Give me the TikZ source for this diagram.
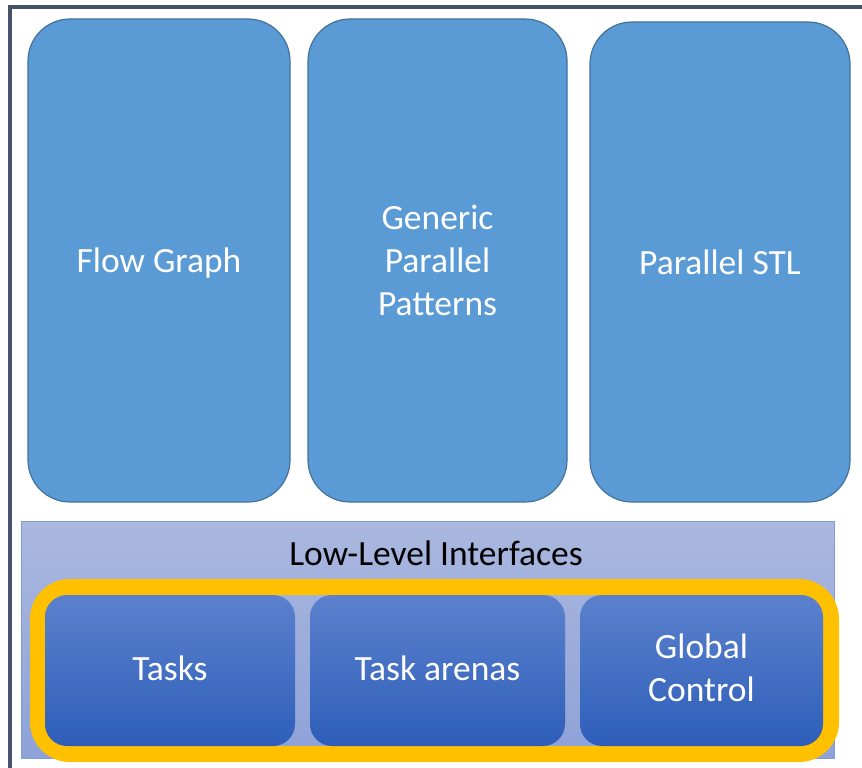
\documentclass[tikz,border=0pt]{standalone}
\usepackage{fontspec}
\setmainfont{Carlito}
\usetikzlibrary{positioning}

\definecolor{frameline}{HTML}{44546A}
\definecolor{boxfill}{HTML}{5B9BD5}
\definecolor{boxedge}{HTML}{41719C}
\definecolor{paneltop}{HTML}{AAB8DF}
\definecolor{panelbot}{HTML}{8EA2D8}
\definecolor{paneledge}{HTML}{7F9CD9}
\definecolor{tasktop}{HTML}{5B81CD}
\definecolor{taskbot}{HTML}{2E5EB9}
\definecolor{highlight}{HTML}{FFC000}

\begin{document}
\begin{tikzpicture}[
  x=1pt, y=-1pt,
  bigbox/.style={draw=boxedge, fill=boxfill, line width=1.2pt, rounded corners=42pt,
    inner sep=0pt, minimum height=483pt, text=white, align=center,
    font=\fontsize{35.5}{43}\selectfont},
  panel/.style={draw=paneledge, line width=0.8pt, top color=paneltop, bottom color=panelbot,
    inner sep=0pt, minimum width=813pt, minimum height=237pt},
  ring/.style={draw=highlight, line width=16pt, rounded corners=32pt, inner sep=0pt,
    minimum width=793pt, minimum height=167pt},
  taskbox/.style={top color=tasktop, bottom color=taskbot, rounded corners=22pt,
    inner sep=0pt, minimum height=151pt, text=white, align=center, text depth=5pt,
    font=\fontsize{35.5}{43}\selectfont}
  ]

  % frame, cut off at right and bottom
  \useasboundingbox (0,0) rectangle (862,768);
  \draw[frameline, line width=4pt] (10,770) -- (10,7.5) -- (864,7.5);

  % upper layer
  \node[bigbox, minimum width=262pt, text depth=0pt] (flowgraph) at (159,260.5) {Flow Graph};
  \node[bigbox, minimum width=259pt] (patterns) at (437.5,260.5) {Generic\\Parallel\\Patterns};
  \node[bigbox, minimum width=260pt, minimum height=480pt] (pstl) at (720,262) {Parallel STL};

  % low-level layer
  \node[panel] (lowlevel) at (427.5,639.5) {};
  \node[font=\fontsize{35.5}{43}\selectfont] (lowlabel) at (436,553) {Low-Level Interfaces};
  \node[ring] (ring) at (434.5,670.5) {};

  \node[taskbox, minimum width=250pt] (tasks) at (170,670.5) {Tasks};
  \node[taskbox, minimum width=255pt] (arenas) at (437.5,670.5) {Task arenas};
  \node[taskbox, minimum width=243pt] (globalctl) at (701.5,670.5) {Global\\Control};

\end{tikzpicture}
\end{document}
